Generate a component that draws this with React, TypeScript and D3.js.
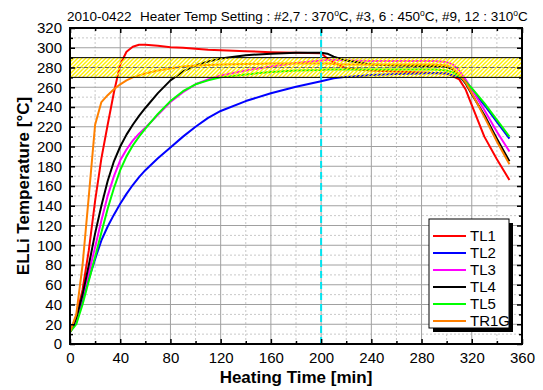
import * as d3 from "d3";
import { useEffect, useRef } from "react";

// time axis (min)
const times = [0, 5, 10, 15, 20, 25, 30, 35, 40, 45, 50, 55, 60, 70, 80, 90, 100, 110, 120, 140, 160, 180, 200, 205, 210, 220, 240, 260, 280, 290, 300, 305, 310, 315, 320, 330, 340, 350];

const tl1 = [12, 28, 55, 95, 145, 188, 222, 255, 283, 296, 301, 303, 303, 302, 300.5, 300, 299, 298, 297.5, 296.5, 295.5, 295, 294.5, 289, 285, 279, 277, 276, 275, 274.5, 274, 271, 268, 258, 242, 210, 187, 166];
const tl2 = [12, 22, 45, 66, 86, 105, 119, 131, 142, 152, 161, 169, 176, 188, 199, 210, 220, 229, 236, 246, 254, 260.5, 266, 267.5, 269, 270.5, 272.5, 273.5, 274, 274.5, 274, 272, 270, 266, 258, 242, 225, 208];
const tl3 = [12, 25, 48, 72, 98, 125, 150, 170, 186, 197, 206, 213, 219, 232, 245, 255, 263, 268, 272, 277, 281, 284.5, 287, 287.5, 287.5, 287, 286.5, 286.5, 286.5, 286.5, 285.5, 283, 277, 268, 258, 237, 215, 195];
const tl4 = [12, 26, 50, 80, 112, 140, 165, 185, 200, 212, 222, 231, 239, 254, 267, 276, 282, 286, 289, 292.5, 294, 295, 295, 294, 291, 287, 283, 282, 281.5, 281.5, 280.5, 278, 272, 264, 253, 232, 208, 185];
const tl5 = [12, 20, 40, 64, 88, 113, 137, 158, 176, 190, 201, 210, 218, 233, 246, 256, 263, 267, 270, 273, 275.5, 277, 277.5, 278, 278, 278, 278, 278, 278, 278, 277, 275, 271, 266, 259, 244, 227, 210];
const tr1g = [12, 30, 80, 150, 222, 245, 252, 258, 263, 267, 270, 272, 274, 277, 279, 281, 282, 282.5, 283, 283.5, 284, 284, 284, 284, 283.5, 283, 283, 283, 283, 283, 282, 279, 273, 265, 254, 230, 205, 182];

const seriesNames = ["TL1", "TL2", "TL3", "TL4", "TL5", "TR1G"];
const seriesValues = [tl1, tl2, tl3, tl4, tl5, tr1g];
const seriesColors = ["#FF0000", "#0000FF", "#FF00FF", "#000000", "#00FF00", "#FF8000"];

const xTicks = [0, 40, 80, 120, 160, 200, 240, 280, 320, 360];
const yTicks = [0, 20, 40, 60, 80, 100, 120, 140, 160, 180, 200, 220, 240, 260, 280, 300, 320];

const bandRange = [270, 290];
const bandMid = 280;
const markerTime = 200;

const App = () => {
    const svgRef = useRef(null);

    const width = 543;
    const height = 390;
    const marginLeft = 70;
    const marginRight = 21;
    const marginTop = 28;
    const marginBottom = 46;

    useEffect(() => {
        const svg = d3.select(svgRef.current);
        svg.selectAll("*").remove();

        const x = d3.scaleLinear().domain([0, 360]).range([marginLeft, width - marginRight]);
        const y = d3.scaleLinear().domain([0, 320]).range([height - marginBottom, marginTop]);

        const font = "'Liberation Sans', Arial, sans-serif";

        // clip
        svg.append("defs").append("clipPath").attr("id", "plotClip")
            .append("rect")
            .attr("x", marginLeft).attr("y", marginTop)
            .attr("width", x(360) - x(0)).attr("height", y(0) - y(320));

        // hatch pattern
        const pat = svg.select("defs").append("pattern")
            .attr("id", "hatch")
            .attr("patternUnits", "userSpaceOnUse")
            .attr("width", 4).attr("height", 4);
        pat.append("path")
            .attr("d", "M-1,1 l2,-2 M0,4 l4,-4 M3,5 l2,-2")
            .attr("stroke", "#FFF000")
            .attr("stroke-width", 1.4);

        // grid
        const minorX = d3.range(20, 360, 40);
        const minorY = d3.range(10, 320, 20);
        const grid = svg.append("g");
        grid.selectAll(".gxm").data(minorX).enter().append("line")
            .attr("x1", d => x(d)).attr("x2", d => x(d))
            .attr("y1", y(0)).attr("y2", y(320))
            .attr("stroke", "#c8c8c8").attr("stroke-dasharray", "2,2");
        grid.selectAll(".gym").data(minorY).enter().append("line")
            .attr("y1", d => y(d)).attr("y2", d => y(d))
            .attr("x1", x(0)).attr("x2", x(360))
            .attr("stroke", "#c8c8c8").attr("stroke-dasharray", "2,2");
        grid.selectAll(".gx").data(xTicks.slice(1, -1)).enter().append("line")
            .attr("x1", d => x(d)).attr("x2", d => x(d))
            .attr("y1", y(0)).attr("y2", y(320))
            .attr("stroke", "#a0a0a0");
        grid.selectAll(".gy").data(yTicks.slice(1, -1)).enter().append("line")
            .attr("y1", d => y(d)).attr("y2", d => y(d))
            .attr("x1", x(0)).attr("x2", x(360))
            .attr("stroke", "#a0a0a0");

        // series lines
        const line = d3.line<number>()
            .x((_d, i) => x(times[i]))
            .y(d => y(d));
        const lines = svg.append("g").attr("clip-path", "url(#plotClip)");
        seriesValues.forEach((vals, i) => {
            lines.append("path")
                .datum(vals)
                .attr("fill", "none")
                .attr("stroke", seriesColors[i])
                .attr("stroke-width", 2)
                .attr("stroke-linejoin", "round")
                .attr("d", line);
        });

        // hatched band on top
        svg.append("rect")
            .attr("x", x(0)).attr("width", x(360) - x(0))
            .attr("y", y(bandRange[1])).attr("height", y(bandRange[0]) - y(bandRange[1]))
            .attr("fill", "url(#hatch)");
        svg.selectAll(".bandLine").data(bandRange).enter().append("line")
            .attr("x1", x(0)).attr("x2", x(360))
            .attr("y1", d => y(d)).attr("y2", d => y(d))
            .attr("stroke", "#000").attr("stroke-width", 1);
        svg.append("line")
            .attr("x1", x(0)).attr("x2", x(360))
            .attr("y1", y(bandMid)).attr("y2", y(bandMid))
            .attr("stroke", "#666").attr("stroke-width", 1)
            .attr("stroke-dasharray", "4,3");

        // cyan marker
        svg.append("line")
            .attr("x1", x(markerTime)).attr("x2", x(markerTime))
            .attr("y1", y(0)).attr("y2", y(320))
            .attr("stroke", "#00E5F0").attr("stroke-width", 2)
            .attr("stroke-dasharray", "7,4");

        // axes (inward ticks)
        const axes = svg.append("g").attr("font-family", font);
        const tickStyle = (g: any) => {
            g.select(".domain").remove();
            g.selectAll("line").attr("stroke", "#000").attr("stroke-width", 1.5);
            g.selectAll("text").attr("font-size", "15px").attr("fill", "#000");
        };
        axes.append("g")
            .attr("transform", `translate(0,${y(0)})`)
            .call(d3.axisBottom(x).tickValues(xTicks).tickSize(-5).tickPadding(8))
            .call(tickStyle)
            .call((g: any) => g.selectAll("text").attr("dy", "0.71em"));
        axes.append("g")
            .attr("transform", `translate(0,${y(0)})`)
            .call(d3.axisBottom(x).tickValues(minorX).tickSize(-3).tickFormat(() => ""))
            .call(tickStyle);
        axes.append("g")
            .attr("transform", `translate(0,${y(320)})`)
            .call(d3.axisTop(x).tickValues(xTicks).tickSize(-5).tickFormat(() => ""))
            .call(tickStyle);
        axes.append("g")
            .attr("transform", `translate(0,${y(320)})`)
            .call(d3.axisTop(x).tickValues(minorX).tickSize(-3).tickFormat(() => ""))
            .call(tickStyle);
        axes.append("g")
            .attr("transform", `translate(${x(0)},0)`)
            .call(d3.axisLeft(y).tickValues(yTicks).tickSize(-5).tickPadding(8))
            .call(tickStyle);
        axes.append("g")
            .attr("transform", `translate(${x(0)},0)`)
            .call(d3.axisLeft(y).tickValues(minorY).tickSize(-3).tickFormat(() => ""))
            .call(tickStyle);
        axes.append("g")
            .attr("transform", `translate(${x(360)},0)`)
            .call(d3.axisRight(y).tickValues(yTicks).tickSize(-5).tickFormat(() => ""))
            .call(tickStyle);
        axes.append("g")
            .attr("transform", `translate(${x(360)},0)`)
            .call(d3.axisRight(y).tickValues(minorY).tickSize(-3).tickFormat(() => ""))
            .call(tickStyle);

        // frame
        svg.append("rect")
            .attr("x", x(0)).attr("y", y(320))
            .attr("width", x(360) - x(0)).attr("height", y(0) - y(320))
            .attr("fill", "none").attr("stroke", "#000").attr("stroke-width", 2);

        // axis titles
        svg.append("text")
            .attr("x", (x(0) + x(360)) / 2).attr("y", 383)
            .attr("text-anchor", "middle")
            .attr("font-family", font).attr("font-weight", "bold").attr("font-size", "17px")
            .text("Heating Time [min]");
        svg.append("text")
            .attr("transform", `translate(29,${(y(0) + y(320)) / 2}) rotate(-90)`)
            .attr("text-anchor", "middle")
            .attr("font-family", font).attr("font-weight", "bold").attr("font-size", "17px")
            .text("ELLi Temperature [°C]");

        // title
        svg.append("text")
            .attr("x", 67).attr("y", 21)
            .attr("font-family", font).attr("font-size", "13.5px")
            .text("2010-0422");
        const t = svg.append("text")
            .attr("x", 140).attr("y", 21)
            .attr("font-family", font).attr("font-size", "13.5px");
        const parts = ["Heater Temp Setting : #2,7 : 370", "C, #3, 6 : 450", "C, #9, 12 : 310", "C"];
        parts.forEach((p, i) => {
            const sp = t.append("tspan").text(p);
            if (i > 0) sp.attr("dy", 5);
            if (i < parts.length - 1) {
                t.append("tspan").attr("dy", -5).attr("font-size", "8.5px").text("o");
            }
        });

        // legend
        const lg = svg.append("g").attr("transform", "translate(429,219)");
        lg.append("rect").attr("x", 4).attr("y", 4).attr("width", 80).attr("height", 109).attr("fill", "#000");
        lg.append("rect").attr("x", 0).attr("y", 0).attr("width", 80).attr("height", 109)
            .attr("fill", "#fff").attr("stroke", "#000").attr("stroke-width", 1);
        seriesNames.forEach((name, i) => {
            const yy = 17 + i * 17;
            lg.append("line").attr("x1", 4).attr("x2", 37).attr("y1", yy).attr("y2", yy)
                .attr("stroke", seriesColors[i]).attr("stroke-width", 2);
            lg.append("text").attr("x", 41).attr("y", yy).attr("dy", "0.36em")
                .attr("font-family", font).attr("font-size", "15px")
                .text(name);
        });
    }, []);

    return (
        <svg ref={svgRef} width={width} height={height}
            style={{ position: "absolute", left: 0, top: 0, background: "#fff" }}></svg>
    );
};

export default App;
